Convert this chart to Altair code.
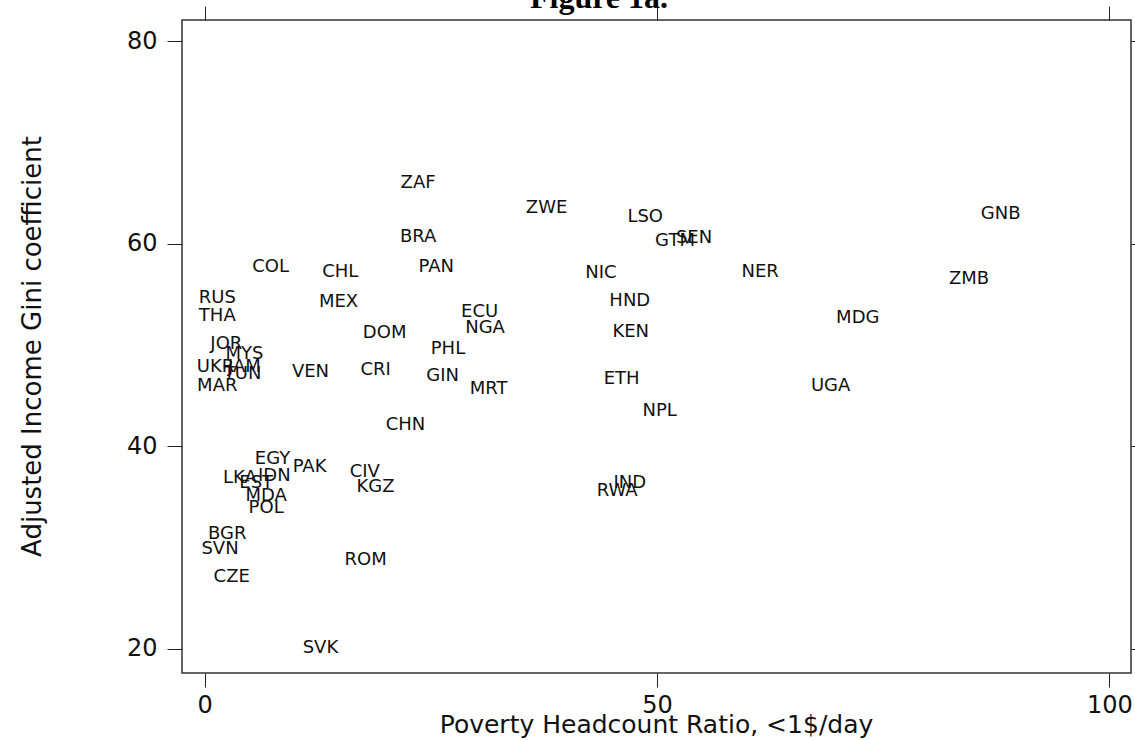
import altair as alt
import pandas as pd

countries = ["ZAF", "ZWE", "LSO", "GNB", "GTM", "SEN", "BRA", "COL", "CHL", "PAN",
             "NIC", "NER", "ZMB", "RUS", "MEX", "HND", "THA", "ECU", "MDG", "NGA",
             "DOM", "KEN", "JOR", "PHL", "MYS", "UKR", "JAM", "VEN", "CRI", "TUN",
             "GIN", "ETH", "MAR", "MRT", "UGA", "NPL", "CHN", "EGY", "PAK", "LKA",
             "IDN", "EST", "CIV", "IND", "KGZ", "RWA", "MDA", "POL", "BGR", "SVN",
             "ROM", "CZE", "SVK"]
poverty = [23.6, 37.8, 48.7, 88.0, 52.0, 54.1, 23.6, 7.3, 15.0, 25.6,
           43.8, 61.4, 84.5, 1.4, 14.8, 47.0, 1.4, 30.4, 72.2, 31.0,
           19.9, 47.1, 2.4, 26.9, 4.4, 1.2, 4.4, 11.7, 18.9, 4.2,
           26.3, 46.1, 1.4, 31.4, 69.2, 50.3, 22.2, 7.5, 11.6, 3.9,
           7.7, 5.7, 17.7, 47.0, 18.9, 45.6, 6.8, 6.8, 2.5, 1.7,
           17.8, 3.0, 12.8]
gini = [66.0, 63.5, 62.6, 62.9, 60.3, 60.6, 60.7, 57.7, 57.2, 57.7,
        57.1, 57.2, 56.5, 54.6, 54.2, 54.3, 52.9, 53.3, 52.7, 51.7,
        51.2, 51.3, 50.1, 49.6, 49.1, 47.8, 47.8, 47.3, 47.5, 47.1,
        46.9, 46.6, 45.9, 45.7, 45.9, 43.5, 42.1, 38.75, 37.9, 36.9,
        37.1, 36.4, 37.5, 36.4, 36.0, 35.6, 35.1, 33.9, 31.35, 29.8,
        28.8, 27.1, 20.1]

x_ticks = [0, 50, 100]
y_ticks = [20, 40, 60, 80]
figure_title = ["Figure 1a."]

df = pd.DataFrame({"country": countries, "poverty": poverty, "gini": gini})

FONT = "DejaVu Sans"
xscale = alt.Scale(domain=[-2.5, 102.4], nice=False, zero=False)
yscale = alt.Scale(domain=[17.6, 82.1], nice=False, zero=False)

labels = alt.Chart(df).mark_text(
    font=FONT, fontSize=18, color="#111", align="center", baseline="middle"
).encode(
    x=alt.X("poverty:Q", scale=xscale, axis=alt.Axis(
        values=x_ticks, title="Poverty Headcount Ratio, <1$/day", orient="bottom",
        domain=False, grid=False, tickSize=14, tickColor="#222", tickWidth=1,
        labelFont=FONT, labelFontSize=24, labelColor="#111",
        labelBaseline="alphabetic", labelPadding=25,
        titleFont=FONT, titleFontSize=25, titleFontWeight="normal", titleColor="#111",
        titleBaseline="alphabetic", titleY=59, titleX=474)),
    y=alt.Y("gini:Q", scale=yscale, axis=alt.Axis(
        values=y_ticks, title="Adjusted Income Gini coefficient", orient="left",
        domain=False, grid=False, tickSize=15, tickColor="#222", tickWidth=1,
        labelFont=FONT, labelFontSize=24, labelColor="#111", labelPadding=10,
        titleFont=FONT, titleFontSize=26, titleFontWeight="normal", titleColor="#111",
        titleAngle=270, titleBaseline="alphabetic", titleX=-142, titleY=326)),
    text="country:N",
)

mirror = alt.Chart(df).mark_point(opacity=0).encode(
    x=alt.X("poverty:Q", scale=xscale, axis=alt.Axis(
        values=x_ticks, title=None, orient="top", labels=False, domain=False,
        grid=False, tickSize=14, tickColor="#222", tickWidth=1)),
    y=alt.Y("gini:Q", scale=yscale, axis=alt.Axis(
        values=y_ticks, title=None, orient="right", labels=False, domain=False,
        grid=False, tickSize=14, tickColor="#222", tickWidth=1)),
)

title_text = alt.Chart(pd.DataFrame({"t": figure_title})).mark_text(
    font="Liberation Serif", fontSize=32, fontWeight="bold", color="#000",
    align="center", baseline="alphabetic"
).encode(x=alt.value(417), y=alt.value(-12), text="t:N")

chart = alt.layer(labels, mirror, title_text).resolve_axis(
    x="independent", y="independent"
).properties(
    width=949, height=653,
    autosize=alt.AutoSizeParams(type="none"),
    padding={"left": 182, "top": 20, "right": 4, "bottom": 67},
).configure(background="white").configure_view(stroke="#333", strokeWidth=1.5)

chart.save("out.html", embed_options={"renderer": "svg", "actions": False})
